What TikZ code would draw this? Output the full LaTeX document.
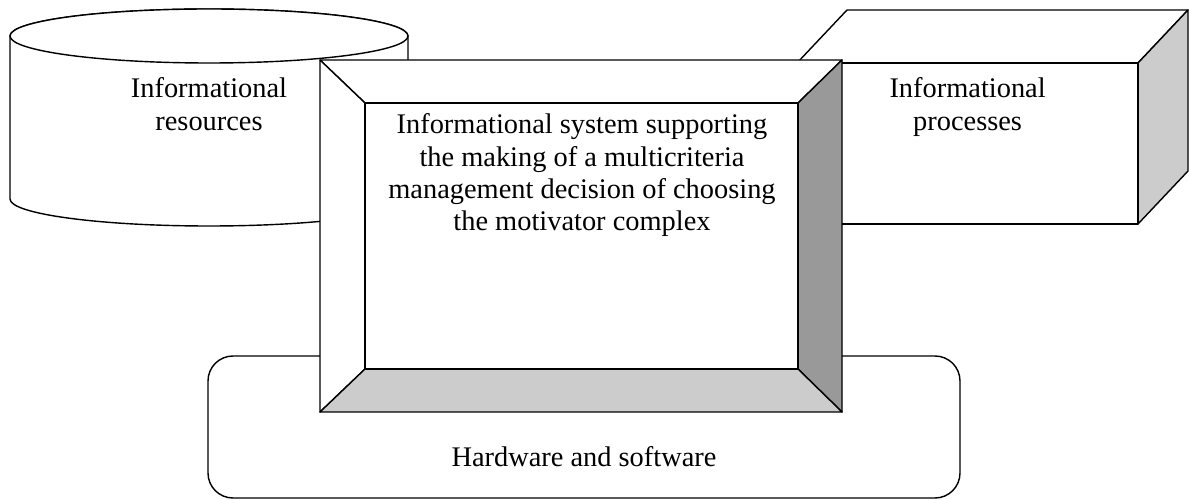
\documentclass[tikz,border=0pt]{standalone}
\usepackage{fontspec}
\setmainfont{Liberation Serif}

\begin{document}
\begin{tikzpicture}[
    part/.style={draw, line width=1pt, fill=white, line join=round},
    infotext/.style={font=\fontsize{20.2}{23}\selectfont, align=center, inner sep=0pt}
]
\useasboundingbox (0,0) rectangle (29.725,12.5);

% Informational resources (cylinder, left)
\draw[part] (0.25,11.6) -- (0.25,7.525) arc[start angle=180, end angle=360, x radius=4.975, y radius=0.675]
    -- (10.2,11.6) arc[start angle=0, end angle=180, x radius=4.975, y radius=0.675] -- cycle;
\draw[part] (5.225,11.6) ellipse[x radius=4.975, y radius=0.675];
\node[infotext, anchor=north] (res) at (5.225,10.56) {Informational\\resources};

% Informational processes (box, right)
\draw[part] (19.925,10.925) -- (21.175,12.25) -- (29.7,12.25) -- (28.45,10.925) -- cycle;
\draw[part, fill=gray!40] (28.45,10.925) -- (29.7,12.25) -- (29.7,8.225) -- (28.45,6.9) -- cycle;
\draw[part] (19.925,6.9) rectangle (28.45,10.925);
\node[infotext, anchor=north] (proc) at (24.19,10.56) {Informational\\processes};

% Hardware and software (rounded base)
\draw[part, rounded corners=0.625cm] (5.2,0.05) rectangle (24,3.6);
\node[infotext, anchor=base] (hw) at (14.6,0.825) {Hardware and software};

% Informational system (bevelled frame, centre)
\draw[part] (8,11) -- (21.05,11) -- (19.95,9.925) -- (9.125,9.925) -- cycle;
\draw[part] (8,11) -- (9.125,9.925) -- (9.125,3.275) -- (8,2.2) -- cycle;
\draw[part, fill=gray!80] (21.05,11) -- (21.05,2.2) -- (19.95,3.275) -- (19.95,9.925) -- cycle;
\draw[part, fill=gray!40] (8,2.2) -- (21.05,2.2) -- (19.95,3.275) -- (9.125,3.275) -- cycle;
\draw[part] (9.125,3.275) rectangle (19.95,9.925);
\node[infotext, anchor=north] (sys) at (14.55,9.66) {Informational system supporting\\the making of a multicriteria\\management decision of choosing\\the motivator complex};

\end{tikzpicture}
\end{document}
